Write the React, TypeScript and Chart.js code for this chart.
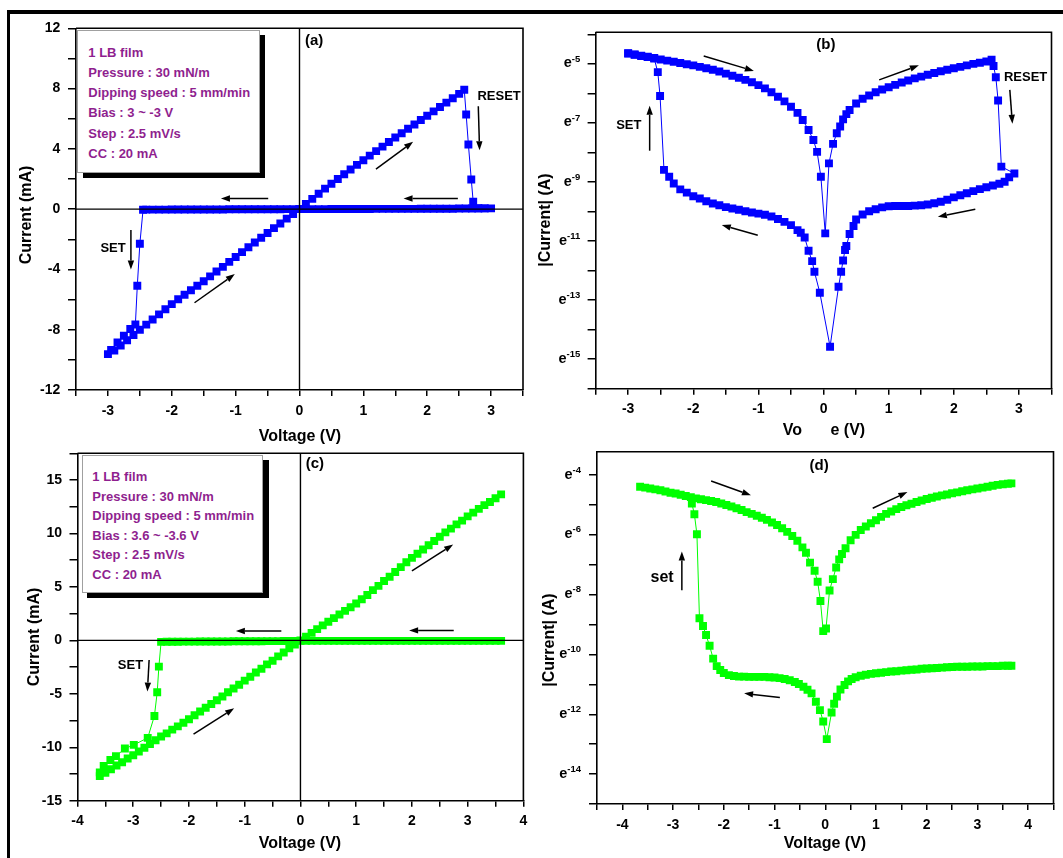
import React, { useEffect, useRef } from 'react';
import { Chart, registerables } from 'chart.js';

Chart.register(...registerables);

type P = [number, number];
type Arrow = [number, number, number, number];
type Note = { x: number; y: number; text: string; size: number; align: CanvasTextAlign };

const FONT = "'Liberation Sans', Arial, Helvetica, sans-serif";
const BLUE = '#0000ff';
const GREEN = '#00ff00';
const PURPLE = '#8f1f8f';

// ---------------- Panel (a): I-V, linear current (mA) ----------------
const aSweepUp: P[] = [[0, 0], [0.1, 0.34], [0.2, 0.68], [0.3, 1.02], [0.4, 1.36], [0.5, 1.69], [0.6, 2.0], [0.7, 2.32], [0.8, 2.63], [0.9, 2.94], [1.0, 3.25], [1.1, 3.55], [1.2, 3.85], [1.3, 4.15], [1.4, 4.45], [1.5, 4.75], [1.6, 5.04], [1.7, 5.33], [1.8, 5.62], [1.9, 5.91], [2.0, 6.2], [2.1, 6.49], [2.2, 6.78], [2.3, 7.07], [2.4, 7.36], [2.5, 7.65], [2.58, 7.92]];
const aReset: P[] = [[2.61, 6.28], [2.645, 4.29], [2.69, 1.97], [2.72, 0.49]];
const aHrs: P[] = [[2.8, 0.07], [2.9, 0.05], [3.0, 0.05], [2.9, 0.05], [2.8, 0.04], [2.7, 0.04], [2.6, 0.04], [2.5, 0.04], [2.4, 0.03], [2.3, 0.03], [2.2, 0.03], [2.1, 0.03], [2.0, 0.03], [1.9, 0.03], [1.8, 0.02], [1.7, 0.02], [1.6, 0.02], [1.5, 0.02], [1.4, 0.02], [1.3, 0.02], [1.2, 0.02], [1.1, 0.01], [1.0, 0.01], [0.9, 0.01], [0.8, 0.01], [0.7, 0.01], [0.6, 0.01], [0.5, 0.01], [0.4, 0.0], [0.3, 0.0], [0.2, 0.0], [0.1, 0.0], [0.0, 0.0], [-0.1, 0.0], [-0.2, 0.0], [-0.3, -0.01], [-0.4, -0.01], [-0.5, -0.01], [-0.6, -0.01], [-0.7, -0.01], [-0.8, -0.01], [-0.9, -0.01], [-1.0, -0.01], [-1.1, -0.01], [-1.2, -0.02], [-1.3, -0.02], [-1.4, -0.02], [-1.5, -0.02], [-1.6, -0.02], [-1.7, -0.02], [-1.8, -0.02], [-1.9, -0.02], [-2.0, -0.02], [-2.1, -0.03], [-2.2, -0.03], [-2.3, -0.03], [-2.4, -0.03], [-2.45, -0.04]];
const aSet: P[] = [[-2.5, -2.3], [-2.54, -5.08], [-2.57, -7.65]];
const aAfterSet: P[] = [[-2.65, -7.95], [-2.75, -8.4], [-2.85, -8.85], [-2.95, -9.35], [-3.0, -9.62]];
const aSweepBack: P[] = [[-2.9, -9.38], [-2.8, -9.05], [-2.7, -8.7], [-2.6, -8.35], [-2.5, -8.0], [-2.4, -7.66], [-2.3, -7.32], [-2.2, -6.98], [-2.1, -6.64], [-2.0, -6.3], [-1.9, -5.98], [-1.8, -5.68], [-1.7, -5.38], [-1.6, -5.08], [-1.5, -4.78], [-1.4, -4.46], [-1.3, -4.14], [-1.2, -3.83], [-1.1, -3.5], [-1.0, -3.17], [-0.9, -2.85], [-0.8, -2.53], [-0.7, -2.21], [-0.6, -1.9], [-0.5, -1.58], [-0.4, -1.26], [-0.3, -0.95], [-0.2, -0.63], [-0.1, -0.32], [0, 0]];
const aArrows: Arrow[] = [[2.8, 6.83, 2.82, 3.91], [1.197, 2.65, 1.779, 4.47], [2.48, 0.71, 1.63, 0.71], [-0.49, 0.71, -1.23, 0.71], [-2.64, -1.39, -2.64, -4.0], [-1.644, -6.21, -1.013, -4.31]];
const aNotes: Note[] = [
  { x: 2.787, y: 7.45, text: 'RESET', size: 13, align: 'left' },
  { x: -2.92, y: -2.61, text: 'SET', size: 13, align: 'center' },
  { x: 0.23, y: 11.16, text: '(a)', size: 15, align: 'center' },
];

// ---------------- Panel (b): ln|I| ----------------
const bUpperLeft: P[] = [[-3.0, -4.64], [-2.9, -4.68], [-2.8, -4.72], [-2.7, -4.76], [-2.6, -4.8], [-2.5, -4.85], [-2.4, -4.89], [-2.3, -4.93], [-2.2, -4.97], [-2.1, -5.01], [-2.0, -5.05], [-1.9, -5.1], [-1.8, -5.15], [-1.7, -5.2], [-1.6, -5.26], [-1.5, -5.33], [-1.4, -5.4], [-1.3, -5.47], [-1.2, -5.54], [-1.1, -5.62], [-1.0, -5.72], [-0.9, -5.83], [-0.8, -5.96], [-0.7, -6.11], [-0.6, -6.27], [-0.5, -6.45], [-0.4, -6.66], [-0.32, -6.9], [-0.23, -7.24], [-0.156, -7.58], [-0.099, -7.98], [-0.041, -8.82], [0.026, -10.74]];
const bUpperRight: P[] = [[0.083, -8.37], [0.146, -7.71], [0.203, -7.35], [0.255, -7.12], [0.3, -6.88], [0.35, -6.7], [0.4, -6.56], [0.5, -6.34], [0.6, -6.18], [0.7, -6.07], [0.8, -5.96], [0.9, -5.87], [1.0, -5.79], [1.1, -5.71], [1.2, -5.63], [1.3, -5.56], [1.4, -5.49], [1.5, -5.43], [1.6, -5.37], [1.7, -5.31], [1.8, -5.25], [1.9, -5.2], [2.0, -5.15], [2.1, -5.1], [2.2, -5.05], [2.3, -5.0], [2.4, -4.96], [2.5, -4.92], [2.58, -4.86]];
const bReset: P[] = [[2.61, -5.07], [2.645, -5.45], [2.68, -6.24], [2.73, -8.48], [2.93, -8.71]];
const bLowerRight: P[] = [[2.85, -8.84], [2.78, -8.99], [2.7, -9.06], [2.6, -9.12], [2.5, -9.18], [2.4, -9.24], [2.3, -9.31], [2.2, -9.38], [2.1, -9.45], [2.0, -9.52], [1.9, -9.6], [1.8, -9.67], [1.7, -9.72], [1.6, -9.76], [1.5, -9.79], [1.4, -9.8], [1.3, -9.81], [1.2, -9.81], [1.1, -9.81], [1.0, -9.82], [0.9, -9.86], [0.8, -9.92], [0.7, -9.99], [0.6, -10.1], [0.5, -10.27], [0.46, -10.49], [0.4, -10.76], [0.35, -11.17], [0.33, -11.3], [0.3, -11.66], [0.27, -12.04], [0.23, -12.55], [0.1, -14.58]];
const bLowerLeft: P[] = [[-0.057, -12.75], [-0.14, -12.04], [-0.175, -11.68], [-0.23, -11.33], [-0.29, -10.88], [-0.35, -10.72], [-0.4, -10.63], [-0.5, -10.46], [-0.6, -10.35], [-0.7, -10.25], [-0.8, -10.17], [-0.9, -10.11], [-1.0, -10.07], [-1.1, -10.03], [-1.2, -9.99], [-1.3, -9.94], [-1.4, -9.9], [-1.5, -9.85], [-1.6, -9.79], [-1.7, -9.73], [-1.8, -9.65], [-1.9, -9.56], [-2.0, -9.48], [-2.1, -9.36], [-2.2, -9.25], [-2.3, -9.05], [-2.37, -8.82], [-2.45, -8.59]];
const bSet: P[] = [[-2.51, -6.09], [-2.545, -5.28], [-2.6, -4.82], [-2.7, -4.77], [-2.8, -4.73], [-2.9, -4.69], [-3.0, -4.65]];
const bLogLabels = [-5, -7, -9, -11, -13, -15];
const bArrows: Arrow[] = [[-1.84, -4.73, -1.07, -5.24], [0.854, -5.54, 1.464, -5.05], [2.86, -5.88, 2.9, -7.03], [-2.67, -7.94, -2.67, -6.42], [2.33, -9.92, 1.755, -10.18], [-1.01, -10.8, -1.5625, -10.46]];
const bNotes: Note[] = [
  { x: 2.77, y: -5.46, text: 'RESET', size: 13, align: 'left' },
  { x: -2.99, y: -7.1, text: 'SET', size: 13, align: 'center' },
  { x: 0.036, y: -4.36, text: '(b)', size: 15, align: 'center' },
];

// ---------------- Panel (c): I-V, linear current (mA) ----------------
const cLrs: P[] = [[-3.6, -12.7], [-3.5, -12.4], [-3.4, -12.05], [-3.3, -11.7], [-3.2, -11.4], [-3.1, -11.05], [-3.0, -10.75], [-2.9, -10.4], [-2.8, -10.05], [-2.7, -9.7], [-2.6, -9.35], [-2.5, -9.0], [-2.4, -8.7], [-2.3, -8.35], [-2.2, -8.05], [-2.1, -7.7], [-2.0, -7.38], [-1.9, -7.0], [-1.8, -6.65], [-1.7, -6.3], [-1.6, -5.95], [-1.5, -5.6], [-1.4, -5.25], [-1.3, -4.85], [-1.2, -4.5], [-1.1, -4.15], [-1.0, -3.77], [-0.9, -3.4], [-0.8, -3.0], [-0.7, -2.65], [-0.6, -2.25], [-0.5, -1.9], [-0.4, -1.5], [-0.3, -1.13], [-0.2, -0.75], [-0.1, -0.38], [0, 0], [0.1, 0.35], [0.2, 0.7], [0.3, 1.05], [0.4, 1.4], [0.5, 1.74], [0.6, 2.08], [0.7, 2.42], [0.8, 2.76], [0.9, 3.1], [1.0, 3.45], [1.1, 3.85], [1.2, 4.25], [1.3, 4.7], [1.4, 5.1], [1.5, 5.55], [1.6, 5.95], [1.7, 6.4], [1.8, 6.85], [1.9, 7.3], [2.0, 7.72], [2.1, 8.1], [2.2, 8.5], [2.3, 8.9], [2.4, 9.3], [2.5, 9.7], [2.6, 10.1], [2.7, 10.45], [2.8, 10.85], [2.9, 11.2], [3.0, 11.6], [3.1, 11.95], [3.2, 12.3], [3.3, 12.65], [3.4, 12.95], [3.5, 13.3], [3.6, 13.66]];
const cHrs: P[] = [[3.6, -0.05], [3.5, -0.05], [3.4, -0.05], [3.3, -0.05], [3.2, -0.05], [3.1, -0.05], [3.0, -0.05], [2.9, -0.05], [2.8, -0.05], [2.7, -0.05], [2.6, -0.05], [2.5, -0.05], [2.4, -0.05], [2.3, -0.05], [2.2, -0.05], [2.1, -0.05], [2.0, -0.05], [1.9, -0.05], [1.8, -0.05], [1.7, -0.05], [1.6, -0.05], [1.5, -0.05], [1.4, -0.05], [1.3, -0.05], [1.2, -0.05], [1.1, -0.05], [1.0, -0.05], [0.9, -0.05], [0.8, -0.05], [0.7, -0.05], [0.6, -0.05], [0.5, -0.05], [0.4, -0.05], [0.3, -0.05], [0.2, -0.05], [0.1, -0.05], [0.0, -0.05], [-0.1, -0.06], [-0.2, -0.06], [-0.3, -0.06], [-0.4, -0.07], [-0.5, -0.07], [-0.6, -0.07], [-0.7, -0.08], [-0.8, -0.08], [-0.9, -0.08], [-1.0, -0.09], [-1.1, -0.09], [-1.2, -0.09], [-1.3, -0.1], [-1.4, -0.1], [-1.5, -0.1], [-1.6, -0.11], [-1.7, -0.11], [-1.8, -0.11], [-1.9, -0.12], [-2.0, -0.12], [-2.1, -0.12], [-2.2, -0.13], [-2.3, -0.13], [-2.4, -0.13], [-2.5, -0.14]];
const cSet: P[] = [[-2.54, -2.46], [-2.57, -4.85], [-2.62, -7.07], [-2.74, -9.12], [-2.99, -9.78], [-3.15, -10.12], [-3.31, -10.83], [-3.41, -11.2], [-3.53, -11.75], [-3.6, -12.35]];
const cArrows: Arrow[] = [[-0.343, 0.87, -1.158, 0.87], [2.75, 0.93, 1.95, 0.93], [2.0, 6.5, 2.74, 8.96], [-1.918, -8.78, -1.189, -6.35], [-2.715, -1.84, -2.746, -4.79]];
const cNotes: Note[] = [
  { x: -3.05, y: -2.3, text: 'SET', size: 13, align: 'center' },
  { x: 0.26, y: 16.5, text: '(c)', size: 15, align: 'center' },
];

// ---------------- Panel (d): ln|I| ----------------
const dUpper: P[] = [[-3.65, -4.39], [-3.55, -4.42], [-3.45, -4.45], [-3.35, -4.48], [-3.25, -4.51], [-3.15, -4.55], [-3.05, -4.59], [-2.95, -4.62], [-2.85, -4.66], [-2.75, -4.7], [-2.65, -4.74], [-2.55, -4.78], [-2.45, -4.81], [-2.35, -4.84], [-2.25, -4.87], [-2.15, -4.9], [-2.05, -4.95], [-1.95, -5.0], [-1.85, -5.05], [-1.75, -5.11], [-1.65, -5.17], [-1.55, -5.24], [-1.45, -5.3], [-1.35, -5.36], [-1.25, -5.43], [-1.15, -5.5], [-1.05, -5.59], [-0.95, -5.67], [-0.85, -5.78], [-0.75, -5.9], [-0.65, -6.04], [-0.55, -6.2], [-0.45, -6.42], [-0.38, -6.6], [-0.3, -6.93], [-0.21, -7.2], [-0.15, -7.57], [-0.095, -8.21], [-0.04, -9.22], [0.015, -9.13], [0.085, -7.86], [0.15, -7.48], [0.215, -7.09], [0.275, -6.82], [0.33, -6.64], [0.4, -6.45], [0.5, -6.18], [0.6, -6.0], [0.7, -5.84], [0.8, -5.72], [0.9, -5.61], [1.0, -5.51], [1.1, -5.4], [1.2, -5.3], [1.3, -5.22], [1.4, -5.14], [1.5, -5.07], [1.6, -5.01], [1.7, -4.96], [1.8, -4.9], [1.9, -4.85], [2.0, -4.8], [2.1, -4.76], [2.2, -4.72], [2.3, -4.68], [2.4, -4.65], [2.5, -4.61], [2.6, -4.58], [2.7, -4.54], [2.8, -4.51], [2.9, -4.48], [3.0, -4.45], [3.1, -4.42], [3.2, -4.39], [3.3, -4.36], [3.4, -4.33], [3.5, -4.31], [3.6, -4.29], [3.67, -4.28]];
const dLower: P[] = [[3.67, -10.38], [3.6, -10.38], [3.5, -10.38], [3.4, -10.39], [3.3, -10.39], [3.2, -10.39], [3.1, -10.4], [3.0, -10.4], [2.9, -10.4], [2.8, -10.41], [2.7, -10.41], [2.6, -10.41], [2.5, -10.42], [2.4, -10.43], [2.3, -10.44], [2.2, -10.45], [2.1, -10.46], [2.0, -10.47], [1.9, -10.48], [1.8, -10.5], [1.7, -10.51], [1.6, -10.53], [1.5, -10.54], [1.4, -10.56], [1.3, -10.57], [1.2, -10.59], [1.1, -10.61], [1.0, -10.63], [0.9, -10.65], [0.8, -10.68], [0.7, -10.71], [0.6, -10.76], [0.52, -10.82], [0.45, -10.9], [0.38, -11.02], [0.3, -11.17], [0.23, -11.41], [0.175, -11.65], [0.125, -11.94], [0.03, -12.83], [-0.04, -12.24], [-0.105, -11.86], [-0.185, -11.58], [-0.27, -11.3], [-0.35, -11.18], [-0.43, -11.08], [-0.52, -10.99], [-0.6, -10.92], [-0.7, -10.86], [-0.8, -10.82], [-0.9, -10.79], [-1.0, -10.77], [-1.1, -10.76], [-1.2, -10.75], [-1.3, -10.75], [-1.4, -10.75], [-1.5, -10.75], [-1.6, -10.74], [-1.7, -10.74], [-1.8, -10.72], [-1.9, -10.69], [-2.0, -10.62], [-2.07, -10.52], [-2.14, -10.39], [-2.21, -10.14], [-2.28, -9.71], [-2.35, -9.35], [-2.41, -9.05], [-2.48, -8.79]];
const dSet: P[] = [[-2.53, -5.98], [-2.58, -5.31], [-2.63, -4.95]];
const dLogLabels = [-4, -6, -8, -10, -12, -14];
const dArrows: Arrow[] = [[-2.25, -4.2, -1.465, -4.68], [0.936, -5.11, 1.62, -4.57], [-2.827, -7.85, -2.827, -6.56], [-0.895, -11.44, -1.6, -11.3]];
const dNotes: Note[] = [
  { x: -3.216, y: -7.43, text: 'set', size: 16, align: 'center' },
  { x: -0.12, y: -3.7, text: '(d)', size: 15, align: 'center' },
];

// ---------------- Text content ----------------
const infoA = ['1 LB film', 'Pressure : 30 mN/m', 'Dipping speed : 5 mm/min', 'Bias : 3 ~ -3 V', 'Step : 2.5 mV/s', 'CC : 20 mA'];
const infoC = ['1 LB film', 'Pressure : 30 mN/m', 'Dipping speed : 5 mm/min', 'Bias : 3.6 ~ -3.6 V', 'Step : 2.5 mV/s', 'CC : 20 mA'];
const xTitle = 'Voltage (V)';
const yTitleLin = 'Current (mA)';
const yTitleLog = '|Current| (A)';

interface PanelDef {
  key: string;
  box: { x: number; y: number; w: number; h: number };
  padTop: number;
  padRight: number;
  yW: number;
  xH: number;
  x: { min: number; max: number; step: number };
  y: { min: number; max: number; step: number };
  yLabelEvery: number;
  xPad: number;
  yPad: number;
  series: P[][];
  color: string;
  zero: boolean;
  arrows: Arrow[];
  notes: Note[];
  logLabels?: number[];
  logGap?: number;
}

const panels: PanelDef[] = [
  {
    key: 'a', box: { x: 10, y: 14, w: 525, h: 432 }, padTop: 14.3, padRight: 12, yW: 66, xH: 56,
    x: { min: -3.5, max: 3.5, step: 0.5 }, y: { min: -12, max: 12, step: 2 }, yLabelEvery: 4,
    xPad: 6.5, yPad: 7.7, color: BLUE, zero: true,
    series: [[...aSweepUp, ...aReset, ...aHrs, ...aSet, ...aAfterSet, ...aSweepBack]],
    arrows: aArrows, notes: aNotes,
  },
  {
    key: 'b', box: { x: 535, y: 14, w: 528, h: 432 }, padTop: 18.3, padRight: 11.5, yW: 60.6, xH: 57.3,
    x: { min: -3.5, max: 3.5, step: 0.5 }, y: { min: -16, max: -3.93, step: 1 }, yLabelEvery: 0,
    xPad: 6.5, yPad: 7, color: BLUE, zero: false,
    series: [[...bUpperLeft, ...bUpperRight, ...bReset, ...bLowerRight, ...bLowerLeft, ...bSet]],
    arrows: bArrows, notes: bNotes, logLabels: bLogLabels, logGap: 7.3,
  },
  {
    key: 'c', box: { x: 10, y: 446, w: 525, h: 412 }, padTop: 7.3, padRight: 11.6, yW: 67.5, xH: 57.3,
    x: { min: -4, max: 4, step: 0.5 }, y: { min: -15, max: 17.5, step: 2.5 }, yLabelEvery: 5,
    xPad: 6.3, yPad: 7.5, color: GREEN, zero: true,
    series: [cLrs, [...cHrs, ...cSet]],
    arrows: cArrows, notes: cNotes,
  },
  {
    key: 'd', box: { x: 535, y: 446, w: 528, h: 412 }, padTop: 5.7, padRight: 9.5, yW: 62, xH: 54,
    x: { min: -4.5, max: 4.5, step: 0.5 }, y: { min: -15, max: -3.22, step: 1 }, yLabelEvery: 0,
    xPad: 7.2, yPad: 7, color: GREEN, zero: false,
    series: [dUpper, [...dLower, ...dSet]],
    arrows: dArrows, notes: dNotes, logLabels: dLogLabels, logGap: 8,
  },
];

const X_TICK = 6;
const Y_TICK = 8;
const MARK = 5.6;

function drawArrow(ctx: CanvasRenderingContext2D, x1: number, y1: number, x2: number, y2: number) {
  const ang = Math.atan2(y2 - y1, x2 - x1);
  const hl = 9;
  const hw = 3.2;
  const bx = x2 - hl * Math.cos(ang);
  const by = y2 - hl * Math.sin(ang);
  ctx.lineWidth = 1.5;
  ctx.beginPath();
  ctx.moveTo(x1, y1);
  ctx.lineTo(bx, by);
  ctx.stroke();
  ctx.beginPath();
  ctx.moveTo(x2, y2);
  ctx.lineTo(bx - hw * Math.sin(ang), by + hw * Math.cos(ang));
  ctx.lineTo(bx + hw * Math.sin(ang), by - hw * Math.cos(ang));
  ctx.closePath();
  ctx.fill();
}

function makeDeco(p: PanelDef) {
  return {
    id: 'deco' + p.key,
    afterDraw(chart: any) {
      const ctx: CanvasRenderingContext2D = chart.ctx;
      const a = chart.chartArea;
      const xs = chart.scales.x;
      const ys = chart.scales.y;
      ctx.save();
      ctx.strokeStyle = '#000';
      ctx.fillStyle = '#000';
      ctx.lineWidth = 1.6;
      ctx.beginPath();
      ctx.moveTo(a.left, a.top);
      ctx.lineTo(a.right, a.top);
      ctx.lineTo(a.right, a.bottom);
      ctx.stroke();
      if (p.zero) {
        const x0 = xs.getPixelForValue(0);
        const y0 = ys.getPixelForValue(0);
        ctx.lineWidth = 1.4;
        ctx.beginPath();
        ctx.moveTo(x0, a.top);
        ctx.lineTo(x0, a.bottom);
        ctx.moveTo(a.left, y0);
        ctx.lineTo(a.right, y0);
        ctx.stroke();
      }
      for (const [x1, y1, x2, y2] of p.arrows) {
        drawArrow(ctx, xs.getPixelForValue(x1), ys.getPixelForValue(y1), xs.getPixelForValue(x2), ys.getPixelForValue(y2));
      }
      ctx.textBaseline = 'middle';
      for (const n of p.notes) {
        ctx.font = `bold ${n.size}px ${FONT}`;
        ctx.textAlign = n.align;
        ctx.fillText(n.text, xs.getPixelForValue(n.x), ys.getPixelForValue(n.y));
      }
      if (p.logLabels) {
        for (const e of p.logLabels) {
          const py = ys.getPixelForValue(e);
          const xr = a.left - Y_TICK - (p.logGap || 7);
          const s = String(e);
          ctx.font = `bold 9.5px ${FONT}`;
          const w = ctx.measureText(s).width;
          ctx.textAlign = 'left';
          ctx.fillText(s, xr - w, py - 5);
          ctx.font = `bold 14.5px ${FONT}`;
          ctx.textAlign = 'right';
          ctx.fillText('e', xr - w, py - 0.5);
        }
      }
      ctx.restore();
    },
  };
}

function isInt(v: number) {
  return Math.abs(v - Math.round(v)) < 1e-9;
}

function PanelChart({ p }: { p: PanelDef }) {
  const ref = useRef<HTMLCanvasElement | null>(null);
  useEffect(() => {
    if (!ref.current) return;
    const tickFont = { family: FONT, size: 14, weight: 'bold' as const };
    const chart = new Chart(ref.current, {
      type: 'scatter',
      data: {
        datasets: p.series.map((s) => ({
          data: s.map(([x, y]) => ({ x, y })),
          showLine: true,
          borderColor: p.color,
          borderWidth: 1,
          pointStyle: 'rect',
          pointRadius: MARK,
          pointHoverRadius: MARK,
          pointBackgroundColor: p.color,
          pointBorderWidth: 0,
          tension: 0,
        })),
      },
      options: {
        animation: false,
        responsive: false,
        events: [],
        layout: { autoPadding: false, padding: { left: 0, top: p.padTop, right: p.padRight, bottom: 0 } },
        plugins: { legend: { display: false }, tooltip: { enabled: false } },
        scales: {
          x: {
            type: 'linear',
            position: 'bottom',
            min: p.x.min,
            max: p.x.max,
            afterFit: (s: any) => {
              s.height = p.xH;
              s.paddingLeft = 0;
              s.paddingRight = 0;
            },
            ticks: {
              stepSize: p.x.step,
              autoSkip: false,
              maxRotation: 0,
              minRotation: 0,
              includeBounds: false,
              padding: p.xPad,
              color: '#000',
              font: tickFont,
              callback: (v: any) => (isInt(Number(v)) ? String(Math.round(Number(v))) : ''),
            },
            grid: { drawOnChartArea: false, drawTicks: true, tickLength: X_TICK, color: '#000', lineWidth: 1.5 },
            border: { display: true, color: '#000', width: 1.6 },
          },
          y: {
            type: 'linear',
            position: 'left',
            min: p.y.min,
            max: p.y.max,
            afterFit: (s: any) => {
              s.width = p.yW;
              s.paddingTop = 0;
              s.paddingBottom = 0;
            },
            ticks: {
              stepSize: p.y.step,
              autoSkip: false,
              includeBounds: false,
              padding: p.yPad,
              color: '#000',
              font: tickFont,
              callback: (v: any) => {
                const n = Number(v);
                if (!p.yLabelEvery) return '';
                const r = n / p.yLabelEvery;
                return isInt(r) ? String(Math.round(n)) : '';
              },
            },
            grid: { drawOnChartArea: false, drawTicks: true, tickLength: Y_TICK, color: '#000', lineWidth: 1.5 },
            border: { display: true, color: '#000', width: 1.6 },
          },
        },
      } as any,
      plugins: [makeDeco(p)],
    });
    return () => chart.destroy();
  }, [p]);
  return (
    <canvas
      ref={ref}
      width={p.box.w}
      height={p.box.h}
      style={{ position: 'absolute', left: p.box.x, top: p.box.y, width: p.box.w, height: p.box.h }}
    />
  );
}

const titleStyle: React.CSSProperties = {
  position: 'absolute',
  font: `bold 16px ${FONT}`,
  lineHeight: '16px',
  whiteSpace: 'nowrap',
  color: '#000',
};

function Title({ x, y, text, rotate }: { x: number; y: number; text: string; rotate?: boolean }) {
  return (
    <div
      style={{
        ...titleStyle,
        left: x,
        top: y,
        transform: rotate ? 'translate(-50%, -50%) rotate(-90deg)' : 'translate(-50%, -50%)',
      }}
    >
      {text}
    </div>
  );
}

function InfoBox({ x, y, w, h, lines, textX, lineY }: { x: number; y: number; w: number; h: number; lines: string[]; textX: number; lineY: number[] }) {
  return (
    <>
      <div style={{ position: 'absolute', left: x + 5.4, top: y + 5, width: w, height: h, background: '#000' }} />
      <div style={{ position: 'absolute', left: x, top: y, width: w, height: h, background: '#fff', border: '1px solid #a0a0a0', boxSizing: 'border-box' }} />
      {lines.map((t, i) => (
        <div
          key={i}
          style={{
            position: 'absolute',
            left: textX,
            top: lineY[i],
            transform: 'translateY(-50%)',
            font: `bold 13px ${FONT}`,
            lineHeight: '13px',
            color: PURPLE,
            whiteSpace: 'nowrap',
          }}
        >
          {t}
        </div>
      ))}
    </>
  );
}

export default function App() {
  return (
    <div style={{ position: 'absolute', left: 0, top: 0, width: 1063, height: 858, background: '#fff', overflow: 'hidden' }}>
      {panels.map((p) => (
        <PanelChart key={p.key} p={p} />
      ))}
      <Title x={300} y={436} text={xTitle} />
      <Title x={824} y={430} text={xTitle} />
      <div style={{ position: 'absolute', left: 803, top: 420, width: 28, height: 20, background: '#fff' }} />
      <Title x={300} y={843.3} text={xTitle} />
      <Title x={825} y={843.3} text={xTitle} />
      <Title x={25.8} y={215} text={yTitleLin} rotate />
      <Title x={545.3} y={220} text={yTitleLog} rotate />
      <Title x={34.4} y={637} text={yTitleLin} rotate />
      <Title x={548.7} y={639.5} text={yTitleLog} rotate />
      <InfoBox x={77.3} y={30} w={182.7} h={142.7} lines={infoA} textX={88.3} lineY={[51.7, 71.7, 92, 112.3, 132.7, 153]} />
      <InfoBox x={81.6} y={455} w={181.8} h={137.7} lines={infoC} textX={92.3} lineY={[476, 495.7, 515.3, 534.7, 554.3, 574]} />
      <div style={{ position: 'absolute', left: 7, top: 10, width: 1056, height: 4, background: '#000' }} />
      <div style={{ position: 'absolute', left: 7, top: 10, width: 3, height: 848, background: '#000' }} />
    </div>
  );
}
